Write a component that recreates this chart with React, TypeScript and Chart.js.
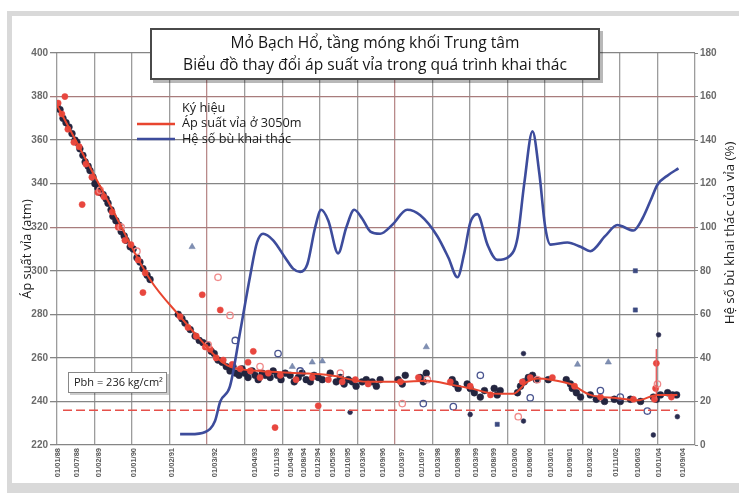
import { useEffect, useRef } from 'react';
import { Chart, registerables } from 'chart.js';
Chart.register(...registerables);

const titleLines = ['Mỏ Bạch Hổ, tầng móng khối Trung tâm', 'Biểu đồ thay đổi áp suất vỉa trong quá trình khai thác'];
const legendTitle = 'Ký hiệu';
const seriesNames = ['Áp suất vỉa ở 3050m', 'Hệ số bù khai thác'];
const pbhLabel = 'Pbh = 236 kg/cm²';
const pbhValue = 236;
const leftAxisTitle = 'Áp suất vỉa (atm)';
const rightAxisTitle = 'Hệ số bù khai thác của vỉa (%)';

const xMin = 1988;
const xMax = 2005;
const gridYears = [1988, 1989, 1990, 1991, 1992, 1993, 1994, 1995, 1996, 1997, 1998, 1999, 2000, 2001, 2002, 2003, 2004, 2005];
const dateTickYears = [1988.03, 1988.53, 1989.12, 1990.05, 1991.07, 1992.21, 1993.28, 1993.87, 1994.24, 1994.59, 1994.96, 1995.36, 1995.76, 1996.16, 1996.69, 1997.2, 1997.73, 1998.16, 1998.69, 1999.15, 1999.63, 2000.21, 2000.61, 2001.15, 2001.68, 2002.21, 2002.88, 2003.47, 2004.03, 2004.67];
const dateTickLabels = ['01/01/88', '01/07/88', '01/02/89', '01/01/90', '01/02/91', '01/03/92', '01/04/93', '01/11/93', '01/04/94', '01/08/94', '01/12/94', '01/05/95', '01/10/95', '01/03/96', '01/09/96', '01/03/97', '01/10/97', '01/03/98', '01/09/98', '01/03/99', '01/08/99', '01/03/00', '01/08/00', '01/03/01', '01/09/01', '01/03/02', '01/11/02', '01/06/03', '01/01/04', '01/09/04'];
const pressureTicks = [220, 240, 260, 280, 300, 320, 340, 360, 380, 400];
const ratioTicks = [0, 20, 40, 60, 80, 100, 120, 140, 160, 180];

// Áp suất vỉa ở 3050m (red line) [year, atm]
const pressureLine: [number, number][] = [
  [1988.0, 376], [1989.33, 333], [1990.48, 296], [1991.28, 279], [1991.89, 267], [1992.27, 260], [1992.61, 256],
  [1993.41, 254], [1994.48, 253], [1995.28, 252], [1996.27, 249], [1997.15, 249], [1997.87, 249.5], [1998.56, 247.5],
  [1999.01, 246], [1999.73, 243.5], [2000.16, 243.5], [2000.53, 249], [2000.8, 250.5], [2001.15, 250], [2001.68, 248],
  [2002.21, 243], [2002.93, 241.5], [2003.47, 240.5], [2004.0, 243], [2004.53, 243],
];

// Hệ số bù khai thác (blue line) [year, %]
const replacementLine: [number, number][] = [
  [1991.28, 5], [1991.55, 5], [1991.95, 6], [1992.21, 11], [1992.35, 20], [1992.61, 27], [1992.88, 52], [1993.15, 78],
  [1993.33, 93], [1993.49, 97], [1993.76, 94], [1994.08, 86], [1994.29, 81], [1994.48, 79.5], [1994.67, 83],
  [1994.88, 100], [1995.04, 108], [1995.23, 103], [1995.49, 88], [1995.71, 100], [1995.92, 108], [1996.13, 104],
  [1996.35, 98], [1996.61, 97], [1996.93, 101], [1997.33, 108], [1997.68, 105.5], [1998.13, 96], [1998.43, 86],
  [1998.67, 77], [1998.85, 88], [1999.01, 102], [1999.2, 106], [1999.47, 92], [1999.73, 85], [2000.08, 87],
  [2000.27, 95], [2000.45, 120], [2000.67, 144], [2000.85, 125], [2001.01, 100], [2001.15, 92], [2001.6, 93],
  [2001.95, 91], [2002.21, 89], [2002.61, 96], [2002.93, 101], [2003.36, 98.5], [2003.6, 104], [2003.81, 112],
  [2004.0, 119.5], [2004.29, 124], [2004.56, 127],
];

const darkPoints: [number, number][] = [
  [1988.0, 376], [1988.08, 374], [1988.16, 370], [1988.24, 368], [1988.32, 366], [1988.4, 363], [1988.48, 360],
  [1988.53, 359], [1988.61, 356], [1988.69, 353], [1988.75, 350], [1988.83, 348], [1988.88, 346], [1988.96, 343],
  [1989.01, 340], [1989.09, 338], [1989.15, 336], [1989.23, 335], [1989.31, 333], [1989.36, 331], [1989.44, 328],
  [1989.49, 325], [1989.57, 323], [1989.65, 321], [1989.71, 318], [1989.79, 316], [1989.84, 314], [1989.95, 311],
  [1990.03, 310], [1990.13, 306], [1990.21, 304], [1990.29, 301], [1990.4, 298], [1990.48, 296],
  [1991.23, 280], [1991.33, 278], [1991.41, 276], [1991.55, 273], [1991.68, 270], [1991.79, 268], [1991.89, 267],
  [1992.0, 266], [1992.11, 263], [1992.19, 262], [1992.29, 259], [1992.4, 258], [1992.51, 256],
  [1992.61, 254], [1992.69, 256], [1992.77, 253], [1992.85, 252], [1992.93, 255], [1993.01, 253], [1993.09, 251],
  [1993.2, 254], [1993.28, 252], [1993.36, 250], [1993.47, 253], [1993.55, 252], [1993.68, 251], [1993.76, 254],
  [1993.87, 252], [1993.97, 250], [1994.08, 253], [1994.21, 252], [1994.32, 249], [1994.43, 251], [1994.53, 253],
  [1994.64, 250], [1994.75, 249], [1994.85, 252], [1994.96, 251], [1995.07, 250], [1995.28, 253], [1995.44, 249],
  [1995.55, 251], [1995.65, 248], [1995.76, 250], [1995.87, 249], [1995.97, 247], [1996.13, 249], [1996.24, 250],
  [1996.4, 249], [1996.51, 247], [1996.61, 250], [1997.09, 250], [1997.2, 248], [1997.28, 252], [1997.68, 251],
  [1997.76, 249], [1997.84, 253], [1998.53, 250], [1998.61, 248], [1998.69, 246], [1998.93, 248], [1999.01, 246],
  [1999.12, 244], [1999.28, 242], [1999.39, 245], [1999.65, 246], [1999.73, 243], [1999.81, 245], [2000.27, 244],
  [2000.35, 247], [2000.45, 249], [2000.56, 251], [2000.67, 252], [2000.77, 250], [2001.09, 250], [2001.57, 250],
  [2001.68, 248], [2001.73, 246], [2001.84, 244], [2001.95, 242], [2002.21, 243], [2002.37, 241], [2002.59, 240],
  [2002.85, 241], [2003.01, 240], [2003.28, 241], [2003.55, 240], [2003.89, 242], [2003.97, 241], [2004.08, 243],
  [2004.27, 244], [2004.4, 243], [2004.51, 243],
];

const redPoints: [number, number][] = [
  [1988.03, 377], [1988.13, 372], [1988.29, 365], [1988.45, 359], [1988.59, 357], [1988.77, 349], [1988.93, 343],
  [1989.09, 336], [1989.25, 334], [1989.47, 327], [1989.63, 320], [1989.81, 314], [1989.97, 312], [1990.16, 305],
  [1990.35, 299], [1991.28, 279], [1991.49, 274], [1991.71, 270], [1991.95, 265], [1992.08, 264], [1992.24, 260],
  [1992.43, 259], [1992.67, 257], [1992.88, 255], [1993.15, 254], [1993.41, 251], [1993.63, 253], [1993.95, 252],
  [1994.37, 250], [1994.8, 251], [1995.23, 250], [1995.6, 249], [1995.95, 250], [1996.29, 248], [1997.15, 249],
  [1997.63, 251], [1998.48, 249], [1999.01, 247], [1999.55, 243], [2000.4, 249], [2000.61, 251], [2001.2, 251],
  [2001.79, 247], [2002.48, 242], [2003.36, 241], [2003.92, 241], [2004.37, 242],
  [1988.21, 380], [1988.67, 330.4], [1990.29, 290], [1991.87, 289], [1992.35, 282], [1993.23, 263], [1993.09, 258],
  [1994.96, 238], [1993.81, 228], [2003.97, 257.5], [2003.95, 246],
];

const pinkOpenPoints: [number, number][] = [
  [1992.29, 297], [1992.61, 279.5], [1997.2, 239], [2000.29, 233], [1989.15, 337], [1989.71, 320], [1990.13, 309],
  [1992.03, 266], [1993.41, 256], [1995.55, 253], [1997.87, 250], [2000.8, 250], [2004.0, 248],
];

const navyOpenPoints: [number, number][] = [
  [1993.89, 262], [2000.61, 241.7], [1998.56, 237.6], [1997.76, 239], [2003.73, 235.6], [1992.75, 268],
  [1994.48, 254], [1999.28, 252], [2002.48, 245], [2003.01, 242],
];

const trianglePoints: [number, number][] = [
  [1991.6, 311], [1994.27, 256], [1994.8, 258], [1995.07, 258.5], [2001.87, 257], [2002.69, 258], [1997.84, 265],
];

const squarePoints: [number, number][] = [
  [2003.41, 300], [2003.41, 282], [1999.73, 229.5],
];

const smallDarkPoints: [number, number][] = [
  [2004.03, 270.6], [2000.43, 262], [2003.89, 224.6], [1999.01, 234], [1995.81, 235], [2004.53, 233], [2000.43, 231],
];

const redSpike: [number, number][] = [[2003.97, 264], [2003.97, 241]];
const pbhLine: [number, number][] = [[1988.16, pbhValue], [2004.53, pbhValue]];

const toXY = (arr: [number, number][]) => arr.map(([x, y]) => ({ x, y }));

const overlayPlugin = {
  id: 'overlay',
  afterDraw(chart: any) {
    const ctx = chart.ctx as CanvasRenderingContext2D;
    ctx.save();
    // title box
    ctx.fillStyle = 'rgba(0,0,0,0.28)';
    ctx.fillRect(153, 31, 450, 52);
    ctx.fillStyle = '#ffffff';
    ctx.fillRect(150, 28, 450, 52);
    ctx.strokeStyle = '#4a4a4a';
    ctx.lineWidth = 2;
    ctx.strokeRect(151, 29, 448, 50);
    ctx.fillStyle = '#161616';
    ctx.font = '15.6px "Open Sans"';
    ctx.textAlign = 'center';
    ctx.textBaseline = 'middle';
    ctx.fillText(titleLines[0], 375, 44);
    ctx.fillText(titleLines[1], 375, 66);

    // legend
    ctx.textAlign = 'left';
    ctx.font = '12.7px "Open Sans"';
    ctx.fillStyle = '#1a1a1a';
    ctx.fillText(legendTitle, 182, 108);
    ctx.fillText(seriesNames[0], 182, 123);
    ctx.fillText(seriesNames[1], 182, 139);
    ctx.lineWidth = 2.5;
    ctx.strokeStyle = '#e8452f';
    ctx.beginPath(); ctx.moveTo(137, 124); ctx.lineTo(175, 124); ctx.stroke();
    ctx.strokeStyle = '#3d4c9c';
    ctx.beginPath(); ctx.moveTo(137, 139); ctx.lineTo(175, 139); ctx.stroke();

    // Pbh box
    ctx.fillStyle = 'rgba(0,0,0,0.2)';
    ctx.fillRect(70, 374, 99, 21);
    ctx.fillStyle = '#ffffff';
    ctx.fillRect(68, 372, 99, 21);
    ctx.strokeStyle = '#888';
    ctx.lineWidth = 1;
    ctx.strokeRect(68.5, 372.5, 98, 20);
    ctx.fillStyle = '#1a1a1a';
    ctx.font = '11px "Open Sans"';
    ctx.fillText(pbhLabel, 74, 383);

    // right axis title (reads bottom to top)
    ctx.translate(730, 233);
    ctx.rotate(-Math.PI / 2);
    ctx.textAlign = 'center';
    ctx.font = '13.3px "Open Sans"';
    ctx.fillStyle = '#1a1a1a';
    ctx.fillText(rightAxisTitle, 0, 0);
    ctx.restore();
  },
};

export default function App() {
  const ref = useRef<HTMLCanvasElement>(null);
  useEffect(() => {
    if (!ref.current) return;
    const allXTicks = [...gridYears, ...dateTickYears].sort((a, b) => a - b);
    const pointBase = { type: 'scatter' as const, showLine: false, yAxisID: 'y' };
    const chart = new Chart(ref.current, {
      type: 'scatter',
      data: {
        datasets: [
          {
            type: 'line', label: seriesNames[1], data: toXY(replacementLine), yAxisID: 'y2',
            borderColor: '#3d4c9c', borderWidth: 2.6, pointRadius: 0, cubicInterpolationMode: 'monotone', order: 0, fill: false,
          } as any,
          {
            type: 'line', label: seriesNames[0], data: toXY(pressureLine), yAxisID: 'y',
            borderColor: '#e8452f', borderWidth: 2, pointRadius: 0, cubicInterpolationMode: 'monotone', order: 1, fill: false,
          } as any,
          {
            type: 'line', label: 'Pbh', data: toXY(pbhLine), yAxisID: 'y',
            borderColor: '#e5504a', borderWidth: 1.5, borderDash: [9, 4], pointRadius: 0, order: 2, fill: false,
          } as any,
          {
            type: 'line', label: 'spike', data: toXY(redSpike), yAxisID: 'y',
            borderColor: '#e86060', borderWidth: 1, pointRadius: 0, order: 3, fill: false,
          } as any,
          { ...pointBase, label: 'dark', data: toXY(darkPoints), pointRadius: 3.4, backgroundColor: '#23253f', borderColor: '#23253f', borderWidth: 0.5, order: 6 },
          { ...pointBase, label: 'red', data: toXY(redPoints), pointRadius: 3.1, backgroundColor: '#e8473f', borderColor: '#e8473f', borderWidth: 0.5, order: 5 },
          { ...pointBase, label: 'pink', data: toXY(pinkOpenPoints), pointRadius: 3.2, backgroundColor: 'rgba(0,0,0,0)', borderColor: '#f08a8a', borderWidth: 1.3, order: 4 },
          { ...pointBase, label: 'navyOpen', data: toXY(navyOpenPoints), pointRadius: 3.2, backgroundColor: 'rgba(0,0,0,0)', borderColor: '#4a5590', borderWidth: 1.3, order: 4 },
          { ...pointBase, label: 'tri', data: toXY(trianglePoints), pointStyle: 'triangle', pointRadius: 3.6, backgroundColor: '#7f8fb3', borderColor: '#6a7aa0', borderWidth: 0.5, order: 4 },
          { ...pointBase, label: 'sq', data: toXY(squarePoints), pointStyle: 'rect', pointRadius: 3, backgroundColor: '#3c4a80', borderColor: '#3c4a80', borderWidth: 0.5, order: 4 },
          { ...pointBase, label: 'smallDark', data: toXY(smallDarkPoints), pointRadius: 2.4, backgroundColor: '#2a2d50', borderColor: '#2a2d50', borderWidth: 0.5, order: 4 },
        ] as any,
      },
      options: {
        responsive: false,
        animation: false,
        events: [],
        layout: { padding: { top: 53, bottom: 0, left: 0, right: 0 } },
        plugins: { legend: { display: false }, tooltip: { enabled: false }, title: { display: false } },
        scales: {
          x: {
            type: 'linear', min: xMin, max: xMax, position: 'bottom',
            afterBuildTicks: (scale: any) => { scale.ticks = allXTicks.map((v) => ({ value: v })); },
            afterFit: (scale: any) => { scale.height = 48; },
            border: { display: false },
            grid: {
              drawTicks: false,
              lineWidth: 1.3,
              color: (c: any) => {
                const v = c.tick ? c.tick.value : null;
                if (v === 1992 || v === 1997) return '#b98a8a';
                return gridYears.includes(v) ? '#9c9c9c' : 'rgba(0,0,0,0)';
              },
            },
            ticks: {
              autoSkip: false, minRotation: 90, maxRotation: 90, padding: 3,
              font: { size: 7.5, weight: 'bold', family: 'Arial' }, color: '#5a5a5a',
              callback: (value: any) => {
                const i = dateTickYears.indexOf(Number(value));
                return i >= 0 ? dateTickLabels[i] : '';
              },
            },
          },
          y: {
            type: 'linear', position: 'left', min: 220, max: 400,
            afterBuildTicks: (scale: any) => { scale.ticks = pressureTicks.map((v) => ({ value: v })); },
            afterFit: (scale: any) => { scale.width = 57; },
            border: { display: false },
            grid: {
              tickLength: 7, lineWidth: 1.3,
              color: (c: any) => (c.tick && (c.tick.value === 380 || c.tick.value === 320) ? '#a87c7c' : '#858585'),
            },
            ticks: { padding: 2, font: { size: 10, weight: 'bold', family: 'Arial' }, color: '#6a6a6a' },
            title: { display: true, text: leftAxisTitle, font: { size: 12.8, family: 'Open Sans' }, color: '#1a1a1a', padding: { top: 20, bottom: 0 } },
          },
          y2: {
            type: 'linear', position: 'right', min: 0, max: 180,
            afterBuildTicks: (scale: any) => { scale.ticks = ratioTicks.map((v) => ({ value: v })); },
            afterFit: (scale: any) => { scale.width = 44; },
            border: { display: false },
            grid: { drawOnChartArea: false, tickLength: 3, color: '#858585' },
            ticks: { padding: 2, font: { size: 10, weight: 'bold', family: 'Arial' }, color: '#6a6a6a' },
          },
        },
      } as any,
      plugins: [overlayPlugin],
    });
    return () => chart.destroy();
  }, []);

  return (
    <div style={{ position: 'fixed', left: 0, top: 0, width: 739, height: 493, background: '#ffffff', overflow: 'hidden' }}>
      <div style={{ position: 'absolute', left: 7, top: 11, width: 732, height: 482, background: '#d9d9d9' }} />
      <div style={{ position: 'absolute', left: 12, top: 16, width: 727, height: 467, background: '#ffffff' }} />
      <canvas ref={ref} width={739} height={493} style={{ position: 'absolute', left: 0, top: 0, width: 739, height: 493 }} />
    </div>
  );
}
